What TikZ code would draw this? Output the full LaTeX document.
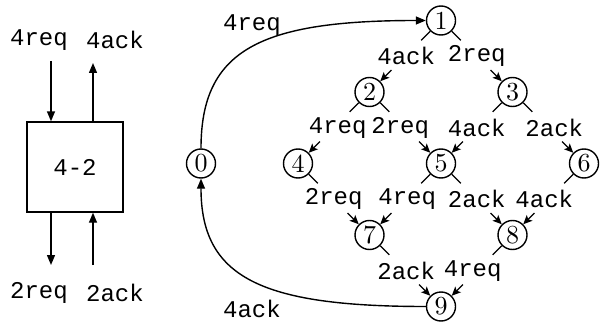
\documentclass[tikz,border=0pt]{standalone}
\usepackage{fontspec}
\newfontfamily\monofont{Liberation Mono}
\newfontfamily\digitfont{lmroman10-regular.otf}
\usetikzlibrary{arrows.meta,calc}

% one transition: a stub leaving the source, the label, a short arrow into the target
\newcommand\stepedge[4]{%
  \draw[wire] (#1) -- ($(#1)!28pt!(#2)$);
  \draw[wire,tip] ($(#2)!31pt!(#1)$) -- (#2);
  \path (#1) -- node[lbl,xshift=#4]{#3} (#2);
}

\begin{document}
\begin{tikzpicture}[x=1pt,y=-1pt,
  state/.style={circle,draw,line width=1.4pt,minimum size=29pt,inner sep=0pt,
                font=\digitfont\fontsize{26}{28}\selectfont},
  lbl/.style={font=\monofont\fontsize{24}{26}\selectfont,inner sep=0pt},
  wire/.style={line width=1.4pt},
  tip/.style={-{Stealth[length=9pt,width=8pt,inset=2pt]}},
  bigtip/.style={-{Triangle[length=10pt,width=8pt]}},
]
\useasboundingbox (0,0) rectangle (600,329);

% ---- the 4-2 block with its handshake wires ----
\node[draw,wire,minimum width=96pt,minimum height=90pt,inner sep=0pt,
      font=\monofont\fontsize{24}{26}\selectfont] (blk) at (75,167) {4-2};
\node[lbl] (l4req) at (39,40) {4req};
\node[lbl] (l4ack) at (115,40) {4ack};
\node[lbl] (l2req) at (39,293) {2req};
\node[lbl] (l2ack) at (115,293) {2ack};
\coordinate (inReq) at (51,61);
\coordinate (outAck) at (93,63);
\coordinate (outReq) at (51,265);
\coordinate (inAck) at (93,265);
\draw[wire,bigtip] (inReq) -- (inReq |- blk.north);
\draw[wire,bigtip] (outAck |- blk.north) -- (outAck);
\draw[wire,bigtip] (outReq |- blk.south) -- (outReq);
\draw[wire,bigtip] (inAck) -- (inAck |- blk.south);

% ---- state graph ----
\node[state] (n0) at (201,163.5) {0};
\node[state] (n1) at (441,20.5) {1};
\node[state] (n2) at (369.5,92) {2};
\node[state] (n3) at (512.5,92) {3};
\node[state] (n4) at (298,163.5) {4};
\node[state] (n5) at (441,163.5) {5};
\node[state] (n6) at (584,163.5) {6};
\node[state] (n7) at (369.5,235) {7};
\node[state] (n8) at (512.5,235) {8};
\node[state] (n9) at (441,306.5) {9};

\stepedge{n1}{n2}{4ack}{1pt}
\stepedge{n1}{n3}{2req}{0pt}
\stepedge{n2}{n4}{4req}{4pt}
\stepedge{n2}{n5}{2req}{-5pt}
\stepedge{n3}{n5}{4ack}{0pt}
\stepedge{n3}{n6}{2ack}{6pt}
\stepedge{n4}{n7}{2req}{0pt}
\stepedge{n5}{n7}{4req}{2pt}
\stepedge{n5}{n8}{2ack}{0pt}
\stepedge{n6}{n8}{4ack}{-4pt}
\stepedge{n7}{n9}{2ack}{1pt}
\stepedge{n8}{n9}{4req}{-4pt}

% the two long transitions through state 0
\draw[wire,bigtip] (n0.north) .. controls (201,50) and (260,20.5) .. (n1.west);
\draw[wire,bigtip] (n9.west) .. controls (260,306.5) and (201,277) .. (n0.south);
\node[lbl] (t4req) at (252,25) {4req};
\node[lbl] (t4ack) at (252,309) {4ack};
\end{tikzpicture}
\end{document}
